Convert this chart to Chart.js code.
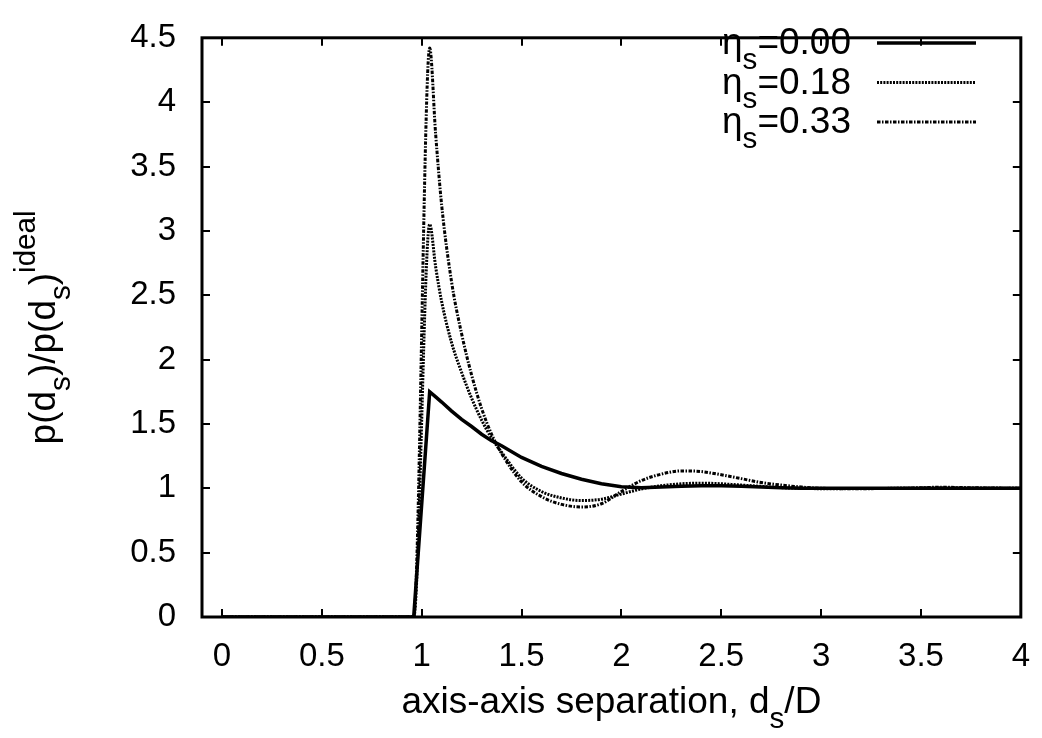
<!DOCTYPE html>
<html>
<head>
<meta charset="utf-8">
<script src="https://cdn.jsdelivr.net/npm/chart.js@4.4.0/dist/chart.umd.min.js"></script>
<style>
  html, body { margin: 0; padding: 0; background: #fff; }
  canvas { display: block; }
</style>
</head>
<body>
<canvas id="myChart" width="1042" height="738"></canvas>
<script>
// axis-axis separation d_s/D
var sep = [0, 0.1, 0.2, 0.3, 0.4, 0.5, 0.6, 0.7, 0.8, 0.9, 0.96, 1.04, 1.07, 1.1,
  1.15, 1.2, 1.25, 1.3, 1.35, 1.4, 1.5, 1.6, 1.7, 1.8, 1.9, 2.0, 2.1, 2.2, 2.3,
  2.4, 2.5, 2.6, 2.7, 2.8, 2.9, 3.0, 3.2, 3.4, 3.6, 3.8, 4.0];

var eta000 = [0, 0, 0, 0, 0, 0, 0, 0, 0, 0, 0, 1.75, 1.71, 1.67,
  1.60, 1.535, 1.48, 1.42, 1.37, 1.33, 1.24, 1.17, 1.115, 1.07, 1.035, 1.012, 1.005, 1.01, 1.015,
  1.02, 1.02, 1.015, 1.01, 1.005, 1.0, 1.0, 1.0, 1.0, 1.0, 1.0, 1.0];

var eta018 = [0, 0, 0, 0, 0, 0, 0, 0, 0, 0, 0, 3.05, 2.72, 2.45,
  2.13, 1.9, 1.7, 1.53, 1.39, 1.28, 1.08, 0.975, 0.925, 0.905, 0.915, 0.955, 0.995, 1.02, 1.035,
  1.04, 1.035, 1.025, 1.015, 1.005, 1.0, 0.997, 0.998, 1.0, 1.002, 1.0, 1.0];

var eta033 = [0, 0, 0, 0, 0, 0, 0, 0, 0, 0, 0, 4.42, 3.75, 3.2,
  2.6, 2.2, 1.88, 1.62, 1.42, 1.27, 1.05, 0.935, 0.875, 0.855, 0.88, 0.975, 1.06, 1.11, 1.135,
  1.13, 1.105, 1.075, 1.045, 1.025, 1.01, 1.0, 0.997, 1.0, 1.008, 1.003, 1.0];

var etaLabels = ['0.00', '0.18', '0.33'];
var xTicks = [0, 0.5, 1, 1.5, 2, 2.5, 3, 3.5, 4];
var yTicks = [0, 0.5, 1, 1.5, 2, 2.5, 3, 3.5, 4, 4.5];

var FONT = '"Liberation Sans", Arial, Helvetica, sans-serif';
var FS = 33;     // tick labels
var TS = 37;     // titles and legend
var dashes = [[], [2, 1.2], [3.5, 1.5, 1.5, 1.5]];

function pts(ys) {
  return sep.map(function(x, i) { return { x: x, y: ys[i] }; });
}

// draw text made of normal / sub / sup pieces
function richWidth(ctx, parts, size) {
  var w = 0;
  parts.forEach(function(p) {
    ctx.font = (p.pos ? size * 0.8 : size) + 'px ' + FONT;
    w += ctx.measureText(p.t).width;
  });
  return w;
}
function drawRich(ctx, parts, x, y, size, align) {
  var w = richWidth(ctx, parts, size);
  var cx = align === 'right' ? x - w : (align === 'center' ? x - w / 2 : x);
  ctx.textAlign = 'left';
  ctx.textBaseline = 'alphabetic';
  parts.forEach(function(p) {
    var s = p.pos ? size * 0.8 : size;
    var dy = p.pos === -1 ? size * 0.4 : (p.pos === 1 ? -size * 0.55 : 0);
    ctx.font = s + 'px ' + FONT;
    ctx.fillText(p.t, cx, y + dy);
    cx += ctx.measureText(p.t).width;
  });
}

var frame = {
  id: 'frame',
  afterDraw: function(chart) {
    var ctx = chart.ctx, a = chart.chartArea;
    var xs = chart.scales.x, ys = chart.scales.y;
    ctx.save();
    ctx.fillStyle = '#000';
    ctx.strokeStyle = '#000';

    // inward tick marks on all four sides
    ctx.lineWidth = 2;
    ctx.beginPath();
    xTicks.forEach(function(v) {
      var px = Math.round(xs.getPixelForValue(v));
      ctx.moveTo(px, a.bottom); ctx.lineTo(px, a.bottom - 8);
      ctx.moveTo(px, a.top); ctx.lineTo(px, a.top + 8);
    });
    yTicks.forEach(function(v) {
      var py = Math.round(ys.getPixelForValue(v));
      ctx.moveTo(a.left, py); ctx.lineTo(a.left + 8, py);
      ctx.moveTo(a.right, py); ctx.lineTo(a.right - 8, py);
    });
    ctx.stroke();

    // border
    ctx.lineWidth = 3;
    ctx.strokeRect(a.left, a.top, a.right - a.left, a.bottom - a.top);

    // legend
    chart.data.datasets.forEach(function(ds, i) {
      var ly = 43 + i * 39.5;
      drawRich(ctx, [{t: '\u03b7'}, {t: 's', pos: -1}, {t: '=' + etaLabels[i]}], 851, ly + 11, TS, 'right');
      ctx.save();
      ctx.lineWidth = ds.borderWidth;
      ctx.setLineDash(ds.borderDash);
      ctx.beginPath();
      ctx.moveTo(877, ly); ctx.lineTo(976, ly);
      ctx.stroke();
      ctx.restore();
    });

    // axis titles
    drawRich(ctx, [{t: 'axis-axis separation, d'}, {t: 's', pos: -1}, {t: '/D'}],
      (a.left + a.right) / 2, 713, TS, 'center');
    ctx.translate(55, (a.top + a.bottom) / 2);
    ctx.rotate(-Math.PI / 2);
    drawRich(ctx, [{t: 'p(d'}, {t: 's', pos: -1}, {t: ')/p(d'}, {t: 's', pos: -1}, {t: ')'}, {t: 'ideal', pos: 1}],
      0, 0, TS, 'center');
    ctx.restore();
  }
};

var ctx = document.getElementById('myChart').getContext('2d');
var myChart = new Chart(ctx, {
  type: 'line',
  data: {
    datasets: [
      {
        label: '\u03b7s=0.00',
        data: pts(eta000),
        borderColor: '#000',
        borderWidth: 3.5,
        borderDash: dashes[0],
        pointRadius: 0,
        tension: 0,
        fill: false
      },
      {
        label: '\u03b7s=0.18',
        data: pts(eta018),
        borderColor: '#000',
        borderWidth: 3,
        borderDash: dashes[1],
        pointRadius: 0,
        cubicInterpolationMode: 'monotone',
        fill: false
      },
      {
        label: '\u03b7s=0.33',
        data: pts(eta033),
        borderColor: '#000',
        borderWidth: 3,
        borderDash: dashes[2],
        pointRadius: 0,
        cubicInterpolationMode: 'monotone',
        fill: false
      }
    ]
  },
  options: {
    responsive: false,
    animation: false,
    devicePixelRatio: 1,
    layout: { padding: { left: 0, top: 19, right: 20, bottom: 0 } },
    plugins: { legend: { display: false }, tooltip: { enabled: false } },
    scales: {
      x: {
        type: 'linear',
        min: -0.1,
        max: 4,
        afterBuildTicks: function(s) { s.ticks = xTicks.map(function(v) { return { value: v }; }); },
        afterFit: function(s) { s.height = 121; },
        grid: { display: false },
        border: { display: false },
        ticks: {
          color: '#000', padding: 12, maxRotation: 0, autoSkip: false,
          font: { family: FONT, size: FS },
          callback: function(v) { return String(v); }
        }
      },
      y: {
        min: 0,
        max: 4.5,
        afterBuildTicks: function(s) { s.ticks = yTicks.map(function(v) { return { value: v }; }); },
        afterFit: function(s) { s.width = 202; },
        grid: { display: false },
        border: { display: false },
        ticks: {
          color: '#000', padding: 18, autoSkip: false,
          font: { family: FONT, size: FS },
          callback: function(v) { return String(v); }
        }
      }
    }
  },
  plugins: [frame]
});
</script>
</body>
</html>
